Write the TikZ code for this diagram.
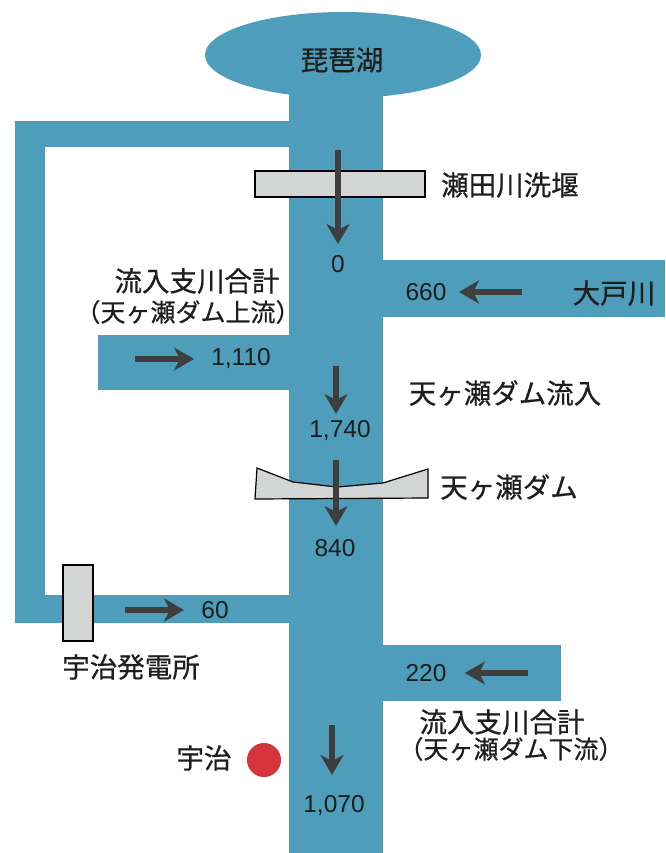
\documentclass[tikz,border=0pt]{standalone}
\usepackage{fontspec}
\setmainfont{Noto Sans CJK JP}
\newfontfamily\numfont{Liberation Sans}
\usetikzlibrary{arrows.meta}
\definecolor{river}{RGB}{78,157,187}
\definecolor{gatefill}{RGB}{211,212,212}
\definecolor{arrowgray}{RGB}{62,62,62}
\definecolor{textc}{RGB}{30,30,30}
\definecolor{dotred}{RGB}{214,52,62}
\newcommand{\hp}[1]{{\addfontfeature{RawFeature=+halt}#1}}
\begin{document}
\begin{tikzpicture}[x=1pt,y=-1pt,
  riverpart/.style={fill=river, draw=none},
  gate/.style={fill=gatefill, draw=black, line width=1.2pt},
  flow/.style={draw=arrowgray, line width=6pt, -{Stealth[length=20pt,width=23pt,inset=6pt]}},
  jlabel/.style={font=\addfontfeature{FakeBold=0.6}\fontsize{27.5}{30}\selectfont, text=textc, inner sep=0pt},
  plabel/.style={font=\addfontfeature{FakeBold=0.6}\fontsize{25}{28}\selectfont, text=textc, inner sep=0pt},
  num/.style={font=\numfont\fontsize{24.5}{26}\selectfont, text=textc, inner sep=0pt}]
\useasboundingbox (0,0) rectangle (665,853);
\fill[white] (0,0) rectangle (665,853);

% river system
\fill[riverpart] (343,55) ellipse [x radius=138, y radius=43];
\fill[riverpart] (289,55) rectangle (383,853);
\fill[riverpart] (15,121) rectangle (290,147);
\fill[riverpart] (15,121) rectangle (45,623);
\fill[riverpart] (15,595) rectangle (290,623);
\fill[riverpart] (98,335) rectangle (290,390);
\fill[riverpart] (382,260) rectangle (665,317);
\fill[riverpart] (382,645) rectangle (561,701);

% structures
\draw[gate] (255,171) rectangle (425,197);
\draw[gate] (63,565) rectangle (93,641);
\draw[gate] (257,468) -- (293,482) -- (337,487) -- (383,483) -- (428,469)
   -- (428,498) -- (255,499) -- cycle;
\fill[dotred] (264,760) circle (17);

% flow arrows
\coordinate (weirS) at (338,150);  \coordinate (weirE) at (338,244);
\coordinate (ooS) at (522,292);    \coordinate (ooE) at (459,292);
\coordinate (upS) at (135,359);    \coordinate (upE) at (194,359);
\coordinate (inS) at (336,366);    \coordinate (inE) at (336,414);
\coordinate (damS) at (336,460);   \coordinate (damE) at (336,526);
\coordinate (pwS) at (125,610);    \coordinate (pwE) at (184,610);
\coordinate (dnS) at (528,673);    \coordinate (dnE) at (465,673);
\coordinate (ujS) at (332,725);    \coordinate (ujE) at (332,775);
\draw[flow] (weirS) -- (weirE);
\draw[flow] (ooS) -- (ooE);
\draw[flow] (upS) -- (upE);
\draw[flow] (inS) -- (inE);
\draw[flow] (damS) -- (damE);
\draw[flow] (pwS) -- (pwE);
\draw[flow] (dnS) -- (dnE);
\draw[flow] (ujS) -- (ujE);

% labels
\node[jlabel] (lake) at (342,60) {琵琶湖};
\node[jlabel, anchor=west] (weir) at (441,185) {瀬田川洗堰};
\node[num] (v0) at (338,264) {0};
\node[jlabel] (trib1a) at (197,281) {流入支川合計};
\node[plabel] (trib1b) at (188,312) {\hp{（}天ヶ瀬ダム上流\hp{）}};
\node[num] (v660) at (426,292) {660};
\node[jlabel] (oto) at (614,293) {大戸川};
\node[num] (v1110) at (241,359) {1,110};
\node[jlabel] (damin) at (505,393) {天ヶ瀬ダム流入};
\node[num] (v1740) at (340,431) {1,740};
\node[jlabel] (dam) at (509,487) {天ヶ瀬ダム};
\node[num] (v840) at (335,548) {840};
\node[num] (v60) at (215,610) {60};
\node[jlabel] (power) at (131,667) {宇治発電所};
\node[num] (v220) at (426,673) {220};
\node[jlabel] (trib2a) at (502,722) {流入支川合計};
\node[plabel] (trib2b) at (511,749) {\hp{（}天ヶ瀬ダム下流\hp{）}};
\node[jlabel] (uji) at (204,758) {宇治};
\node[num] (v1070) at (334,806) {1,070};
\end{tikzpicture}
\end{document}
